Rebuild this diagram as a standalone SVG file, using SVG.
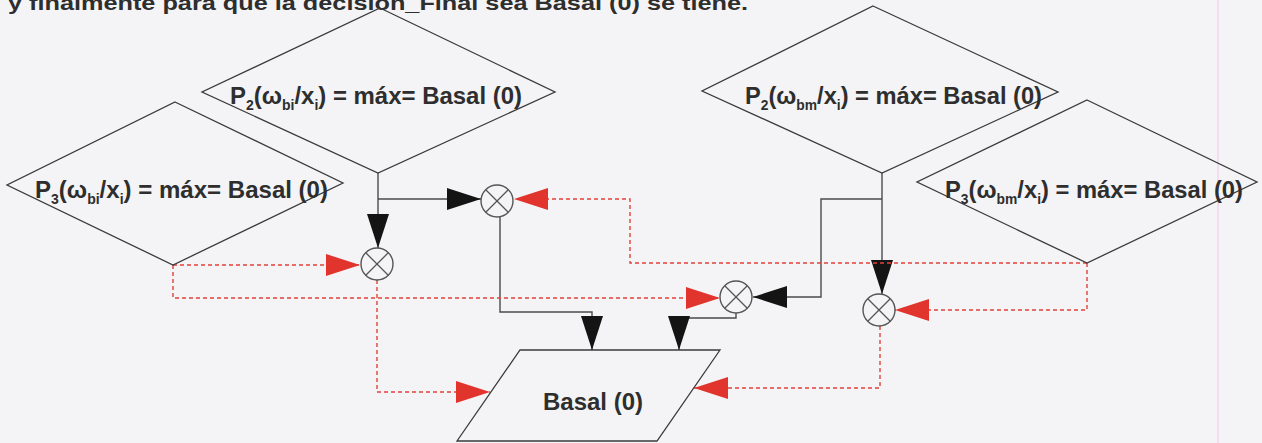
<svg xmlns="http://www.w3.org/2000/svg" width="1262" height="443" viewBox="0 0 1262 443">
<style>
.shape{fill:none;stroke:#3a3a3a;stroke-width:1.3}
.wire{fill:none;stroke:#4a4a4a;stroke-width:1.4}
.dash{fill:none;stroke:#e2423a;stroke-width:1.4;stroke-dasharray:4 3}
.lbl{font-family:"Liberation Sans",Arial,sans-serif;font-size:24px;font-weight:bold;fill:#2e2e2e}
.sub{font-size:14px}
.circ{fill:#f4f4f6;stroke:#555;stroke-width:1.4}
.x{stroke:#555;stroke-width:1.3}
</style>
<defs>
<marker id="ab" viewBox="0 0 34 22" refX="34" refY="11" markerWidth="34" markerHeight="22" markerUnits="userSpaceOnUse" orient="auto"><path d="M0,0 L34,11 L0,22 z" fill="#141414"/></marker>
<marker id="ar" viewBox="0 0 34 22" refX="34" refY="11" markerWidth="34" markerHeight="22" markerUnits="userSpaceOnUse" orient="auto"><path d="M0,0 L34,11 L0,22 z" fill="#e0342c"/></marker>
<g id="sum"><circle cx="0" cy="0" r="16" class="circ"/><line x1="-11" y1="-11" x2="11" y2="11" class="x"/><line x1="-11" y1="11" x2="11" y2="-11" class="x"/></g>
</defs>
<rect width="1262" height="443" fill="#f4f4f6"/>
<line x1="1218" y1="0" x2="1218" y2="443" stroke="#f0c4f0" stroke-width="1"/>
<text x="8" y="10" class="lbl" style="font-size:21px" textLength="740" lengthAdjust="spacingAndGlyphs">y finalmente para que la decisión_Final sea Basal (0) se tiene.</text>

<g id="connectors">
<polyline class="wire" points="378,173 378,248" marker-end="url(#ab)"/>
<polyline class="wire" points="378,199 481,199" marker-end="url(#ab)"/>
<polyline class="wire" points="500,217 500,312 592,312 592,350" marker-end="url(#ab)"/>
<polyline class="wire" points="736,313 736,318 679,318 679,350" marker-end="url(#ab)"/>
<polyline class="wire" points="882,173 882,294" marker-end="url(#ab)"/>
<polyline class="wire" points="882,199 821,199 821,297 753,297" marker-end="url(#ab)"/>
<polyline class="dash" points="173,265 360,265" marker-end="url(#ar)"/>
<polyline class="dash" points="173,265 173,298 720,298" marker-end="url(#ar)"/>
<polyline class="dash" points="377,280 377,392 490,392" marker-end="url(#ar)"/>
<polyline class="dash" points="1087,263 630,263 630,199 514,199" marker-end="url(#ar)"/>
<polyline class="dash" points="1087,263 1087,310 895,310" marker-end="url(#ar)"/>
<polyline class="dash" points="880,326 880,388 694,388" marker-end="url(#ar)"/>
</g>

<g id="d_p2bi">
<polygon class="shape" points="380,8 555,92 378,173 202,92"/>
<text x="230" y="104" class="lbl" textLength="292" lengthAdjust="spacingAndGlyphs">P<tspan class="sub" dy="6">2</tspan><tspan dy="-6">(ω</tspan><tspan class="sub" dy="6">bi</tspan><tspan dy="-6">/x</tspan><tspan class="sub" dy="6">i</tspan><tspan dy="-6">) = máx= Basal (0)</tspan></text>
</g>
<g id="d_p3bi">
<polygon class="shape" points="175,102 343,183 173,265 7,185"/>
<text x="35" y="198" class="lbl" textLength="293" lengthAdjust="spacingAndGlyphs">P<tspan class="sub" dy="6">3</tspan><tspan dy="-6">(ω</tspan><tspan class="sub" dy="6">bi</tspan><tspan dy="-6">/x</tspan><tspan class="sub" dy="6">i</tspan><tspan dy="-6">) = máx= Basal (0)</tspan></text>
</g>
<g id="d_p2bm">
<polygon class="shape" points="873,6 1058,92 882,173 702,91"/>
<text x="745" y="104" class="lbl" textLength="297" lengthAdjust="spacingAndGlyphs">P<tspan class="sub" dy="6">2</tspan><tspan dy="-6">(ω</tspan><tspan class="sub" dy="6">bm</tspan><tspan dy="-6">/x</tspan><tspan class="sub" dy="6">i</tspan><tspan dy="-6">) = máx= Basal (0)</tspan></text>
</g>
<g id="d_p3bm">
<polygon class="shape" points="1087,100 1257,182 1087,263 917,182"/>
<text x="945" y="198" class="lbl" textLength="298" lengthAdjust="spacingAndGlyphs">P<tspan class="sub" dy="6">3</tspan><tspan dy="-6">(ω</tspan><tspan class="sub" dy="6">bm</tspan><tspan dy="-6">/x</tspan><tspan class="sub" dy="6">i</tspan><tspan dy="-6">) = máx= Basal (0)</tspan></text>
</g>

<g id="sum1"><use href="#sum" x="377" y="264"/></g>
<g id="sum2"><use href="#sum" x="497" y="201"/></g>
<g id="sum3"><use href="#sum" x="736" y="297"/></g>
<g id="sum4"><use href="#sum" x="879" y="310"/></g>

<g id="out_basal">
<polygon class="shape" points="520,350 720,350 657,441 457,441"/>
<text x="593" y="410" class="lbl" text-anchor="middle">Basal (0)</text>
</g>
</svg>
